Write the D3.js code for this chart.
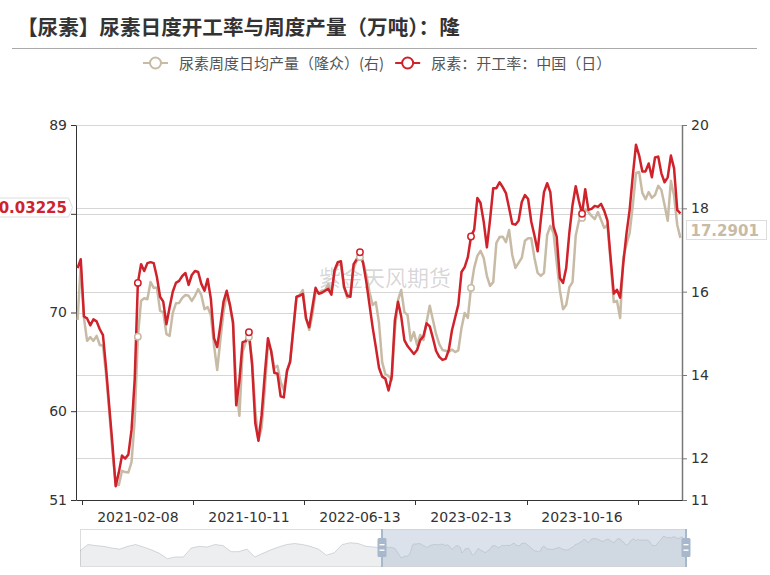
<!DOCTYPE html>
<html><head><meta charset="utf-8">
<script src="https://cdn.jsdelivr.net/npm/d3@7/dist/d3.min.js"></script>
<style>body{margin:0;background:#fff;}svg{display:block;}</style>
</head><body>
<svg id="chart" width="770" height="575"></svg>
<script>
const titleText = "【尿素】尿素日度开工率与周度产量（万吨）：隆";
const legendNames = ["尿素周度日均产量（隆众）(右)", "尿素：开工率：中国（日）"];
const watermarkText = "紫金天风期货";
const startWeek = "2020-09-28";
const weekCount = 191;
const xTickLabels = ["2021-02-08", "2021-10-11", "2022-06-13", "2023-02-13", "2023-10-16"];
const leftTicks = [51, 60, 70, 80, 89];
const rightTicks = [11, 12, 14, 16, 18, 20];

// 尿素：开工率：中国（日） (left axis)
const rateValues = [
 74.5,75.4,69.6,69.4,68.7,69.3,69.1,68.3,67.7,64.3,
 60.4,56.6,52.4,53.8,55.5,55.2,55.6,58.1,63.2,73.0,
 74.9,74.2,75.0,75.1,75.0,73.6,71.6,71.1,68.8,70.5,
 72.1,73.0,73.2,73.7,74.0,72.8,73.8,74.2,74.1,72.9,
 72.2,73.4,71.4,67.4,66.5,68.7,71.1,72.2,70.8,69.0,
 60.6,63.1,67.0,67.1,68.0,64.7,58.8,57.0,59.6,63.7,
 67.4,66.1,63.9,63.8,61.5,61.4,64.1,65.0,68.4,71.6,
 71.7,71.9,69.4,68.5,70.5,72.5,71.9,72.0,72.2,72.4,
 71.8,74.3,75.1,75.2,72.6,71.7,71.6,74.9,75.4,76.1,
 75.0,73.1,70.8,68.5,66.5,64.4,63.5,63.3,62.1,63.5,
 69.2,71.1,69.6,67.2,66.6,66.2,65.8,66.2,67.2,67.6,
 68.9,68.6,67.4,66.1,65.5,65.2,65.3,66.2,68.2,69.5,
 70.8,74.1,74.6,75.6,77.7,78.4,81.6,81.1,79.2,76.6,
 79.4,82.6,82.6,83.2,82.7,82.1,80.6,79.0,78.9,79.3,
 81.2,81.9,81.5,79.2,77.8,76.2,79.4,82.2,83.1,82.2,
 78.7,77.7,73.5,73.0,74.5,78.1,80.9,82.8,81.3,80.0,
 82.5,80.4,80.5,80.8,80.7,81.0,80.3,79.3,75.5,71.9,
 72.3,71.5,75.0,78.0,80.4,83.9,87.0,85.9,84.3,84.3,
 85.1,83.7,85.7,85.8,84.1,83.2,83.7,85.9,84.6,80.4,
 80.03225
];

// 尿素周度日均产量（隆众） (right axis)
const outputValues = [
 15.32,16.64,15.37,14.82,14.91,14.82,14.94,14.72,14.70,14.00,
 13.11,12.15,11.38,11.36,11.70,11.67,11.66,11.91,12.92,14.92,
 15.78,15.84,15.82,16.23,16.09,16.10,15.54,15.51,14.98,14.94,
 15.49,15.72,15.73,15.85,15.92,15.90,15.78,15.90,16.06,15.92,
 15.58,15.63,15.44,14.72,14.12,14.84,15.51,15.92,15.68,15.20,
 13.76,13.02,14.55,14.79,14.91,14.36,13.16,12.44,12.73,13.64,
 14.72,14.60,14.17,14.22,13.83,13.64,14.07,14.36,15.08,15.87,
 15.92,16.04,15.37,15.08,15.44,15.99,15.97,16.02,16.04,16.18,
 15.99,16.47,16.66,16.64,16.09,15.85,15.97,16.57,16.74,16.83,
 16.71,16.40,15.99,15.68,15.75,15.25,14.31,14.02,13.98,13.88,
 15.08,15.80,16.04,15.51,15.44,14.82,15.03,14.72,14.96,14.84,
 15.27,15.66,15.32,14.98,14.74,14.60,14.58,14.56,14.61,14.55,
 14.59,15.13,15.49,15.37,16.09,16.57,16.86,16.98,16.81,16.38,
 16.14,16.23,17.17,17.31,17.32,17.19,17.48,16.88,16.57,16.69,
 16.81,17.22,17.28,17.28,16.81,16.45,16.38,16.45,17.36,17.58,
 17.41,16.71,16.04,15.58,15.68,16.11,16.23,17.34,17.70,17.77,
 17.98,17.91,17.82,17.74,17.91,17.72,17.53,17.60,16.71,15.75,
 15.78,15.37,16.81,17.14,17.41,18.08,18.85,18.87,18.37,18.22,
 18.39,18.25,18.32,18.54,18.44,18.08,17.70,18.66,18.30,17.60,
 17.2901
];

// earlier history shown only in the zoom slider shadow (left, unselected part)
const historyShadow = [63.7,73.7,72,70.8,68.2,66.5,70.8,73.7,69.8,65.3,59.8,51.5,54.2,54.2,68.2,70.8,69.8,73.7,72,62.5,62.5,66.5,54.2,59.8,65.3,69.8,73.7,75.3,73.7,70.8,66.5,57,60.8,73.7,76.5,75.3,70.8,69.8,68.2];

const colorRate = "#d0222b";
const colorOutput = "#c8bba6";

const fmt = d3.timeFormat("%Y-%m-%d");
const start = d3.timeParse("%Y-%m-%d")(startWeek);
const categories = d3.range(weekCount).map(i => fmt(d3.timeDay.offset(start, 7 * i)));

const svg = d3.select("#chart");
const L = 76, R = 682, T = 125, B = 500;

const x = d3.scaleBand().domain(categories).range([L, R]);
const bw = x.bandwidth();
const cx = c => x(c) + bw / 2;
const yL = d3.scaleLinear().domain([51, 89]).range([B, T]);
const yR = d3.scaleLinear().domain([11, 20]).range([B, T]);

svg.append("rect").attr("width", 770).attr("height", 575).attr("fill", "#fff");

// title
svg.append("text").attr("x", 17).attr("y", 34.5)
  .attr("font-family", "'Noto Sans CJK SC'").attr("font-weight", "bold")
  .attr("font-size", 20.6).attr("fill", "#333").text(titleText);
svg.append("line").attr("x1", 12).attr("x2", 757).attr("y1", 48.5).attr("y2", 48.5)
  .attr("stroke", "#aaa").attr("stroke-width", 1);

// legend
const leg = svg.append("g").attr("font-family", "'Noto Sans CJK SC'").attr("font-size", 15).attr("fill", "#555");
let lx = 143;
[[legendNames[0], colorOutput], [legendNames[1], colorRate]].forEach(([name, col]) => {
  leg.append("line").attr("x1", lx).attr("x2", lx + 25).attr("y1", 63).attr("y2", 63)
    .attr("stroke", col).attr("stroke-width", 2);
  leg.append("circle").attr("cx", lx + 12.5).attr("cy", 63).attr("r", 5.5)
    .attr("fill", "#fff").attr("stroke", col).attr("stroke-width", 2);
  const t = leg.append("text").attr("x", lx + 36).attr("y", 68.5).text(name);
  lx += 36 + t.node().getComputedTextLength() + 11;
});

// grid lines
const grid = svg.append("g").attr("stroke", "#d6d6d6").attr("stroke-width", 1);
leftTicks.filter(v => v !== 51).forEach(v => {
  grid.append("line").attr("x1", L).attr("x2", R).attr("y1", Math.round(yL(v)) + 0.5).attr("y2", Math.round(yL(v)) + 0.5);
});
rightTicks.filter(v => v !== 11 && v !== 20).forEach(v => {
  grid.append("line").attr("x1", L).attr("x2", R).attr("y1", Math.round(yR(v)) + 0.5).attr("y2", Math.round(yR(v)) + 0.5);
});

// watermark
svg.append("text").attr("x", 385).attr("y", 286).attr("text-anchor", "middle")
  .attr("font-family", "'Noto Sans CJK SC'").attr("font-size", 22)
  .attr("fill", "rgba(0,0,0,0.17)").text(watermarkText);

// axes
const lastRate = rateValues[rateValues.length - 1];
const lastOut = outputValues[outputValues.length - 1];
const axisFont = "'DejaVu Sans'";
// the 80 tick label sits under the end-value label of the rate series, as in the source
const gl = svg.append("g").attr("transform", `translate(${L},0)`)
  .call(d3.axisLeft(yL).tickValues(leftTicks).tickSize(5).tickSizeOuter(0).tickPadding(4)
    .tickFormat(v => Math.abs(v - lastRate) < 2 ? "" : v));
gl.select(".domain").attr("stroke", "#333");
gl.selectAll(".tick line").attr("stroke", "#333");
gl.selectAll(".tick text").attr("font-family", axisFont).attr("font-size", 14).attr("fill", "#333");

const gr = svg.append("g").attr("transform", `translate(${R},0)`)
  .call(d3.axisRight(yR).tickValues(rightTicks).tickSize(5).tickSizeOuter(0).tickPadding(4));
gr.select(".domain").attr("stroke", "#777").attr("stroke-width", 1.5);
gr.selectAll(".tick line").attr("stroke", "#777");
gr.selectAll(".tick text").attr("font-family", axisFont).attr("font-size", 14).attr("fill", "#333");

const gb = svg.append("g").attr("transform", `translate(0,${B})`)
  .call(d3.axisBottom(x).tickValues(xTickLabels).tickSize(0).tickSizeOuter(0).tickPadding(12));
gb.select(".domain").attr("stroke", "#333");
gb.selectAll(".tick text").attr("font-family", axisFont).attr("font-size", 14).attr("fill", "#333");
// boundary ticks between the labelled categories
const tickCats = d3.range(6).map(k => categories[2 + 35 * k]);
svg.append("g").selectAll("line").data(tickCats).join("line")
  .attr("x1", d => Math.round(x(d)) + 0.5).attr("x2", d => Math.round(x(d)) + 0.5)
  .attr("y1", B).attr("y2", B + 5).attr("stroke", "#333");

// lines
const lineOut = d3.line().x((d, i) => cx(categories[i])).y(d => yR(d));
const lineRate = d3.line().x((d, i) => cx(categories[i])).y(d => yL(d));
svg.append("path").datum(outputValues).attr("d", lineOut).attr("fill", "none")
  .attr("stroke", colorOutput).attr("stroke-width", 2.5).attr("stroke-linejoin", "round");
svg.append("path").datum(rateValues).attr("d", lineRate).attr("fill", "none")
  .attr("stroke", colorRate).attr("stroke-width", 2.5).attr("stroke-linejoin", "round");

// markers at labelled categories
const markIdx = xTickLabels.map(l => categories.indexOf(l));
svg.append("g").selectAll("circle").data(markIdx).join("circle")
  .attr("cx", i => cx(categories[i])).attr("cy", i => yR(outputValues[i])).attr("r", 3.2)
  .attr("fill", "#fff").attr("stroke", colorOutput).attr("stroke-width", 1.5);
svg.append("g").selectAll("circle").data(markIdx).join("circle")
  .attr("cx", i => cx(categories[i])).attr("cy", i => yL(rateValues[i])).attr("r", 3.2)
  .attr("fill", "#fff").attr("stroke", colorRate).attr("stroke-width", 1.5);

// end value labels
const lblFont = "'DejaVu Sans'";
const ly = 207.5;
svg.append("path")
  .attr("d", `M-5,${ly - 9.5} L68.5,${ly - 9.5} L72.5,${ly} L68.5,${ly + 9.5} L-5,${ly + 9.5} Z`)
  .attr("fill", "#fff").attr("stroke", "#ddd");
svg.append("text").attr("x", 67).attr("y", ly + 5.5).attr("text-anchor", "end")
  .attr("font-family", lblFont).attr("font-weight", "bold").attr("font-size", 15)
  .attr("fill", colorRate).text(String(lastRate));
const ry = 230;
svg.append("rect").attr("x", 686.5).attr("y", ry - 9.5).attr("width", 80).attr("height", 19)
  .attr("fill", "#fff").attr("stroke", "#ddd");
svg.append("text").attr("x", 690.5).attr("y", ry + 5.5)
  .attr("font-family", lblFont).attr("font-weight", "bold").attr("font-size", 15)
  .attr("fill", colorOutput).text(String(lastOut));

// data zoom slider
const sL = 80, sR = 686, sT = 529, sB = 566, sMid = 382;
const sy = d3.scaleLinear().domain([40, 98]).range([sB, sT]);
const sxH = d3.scaleLinear().domain([0, historyShadow.length - 1]).range([sL, sMid]);
const sxC = d3.scaleLinear().domain([0, rateValues.length - 1]).range([sMid, sR]);
const shadowPts = historyShadow.map((v, i) => [sxH(i), sy(v)])
  .concat(rateValues.map((v, i) => [sxC(i), sy(v)]));
const sg = svg.append("g");
sg.append("rect").attr("x", sL + 0.5).attr("y", sT + 0.5).attr("width", sR - sL).attr("height", sB - sT)
  .attr("fill", "#fff").attr("stroke", "#ddd");
sg.append("path").datum(shadowPts)
  .attr("d", d3.area().x(d => d[0]).y0(sB).y1(d => d[1]))
  .attr("fill", "rgba(47,69,84,0.09)");
sg.append("path").datum(shadowPts)
  .attr("d", d3.line().x(d => d[0]).y(d => d[1]))
  .attr("fill", "none").attr("stroke", "rgba(47,69,84,0.3)").attr("stroke-width", 0.6);
sg.append("rect").attr("x", sMid).attr("y", sT + 0.5).attr("width", sR - sMid).attr("height", sB - sT)
  .attr("fill", "rgba(167,183,204,0.4)");
[sMid, sR].forEach(hx => {
  sg.append("rect").attr("x", hx - 1).attr("y", sT).attr("width", 2).attr("height", sB - sT + 1).attr("fill", "#a7b7cc");
  sg.append("rect").attr("x", hx - 4.5).attr("y", 538).attr("width", 9).attr("height", 19).attr("rx", 1.5).attr("fill", "#a7b7cc");
  sg.append("rect").attr("x", hx - 2.5).attr("y", 544).attr("width", 5).attr("height", 1.4).attr("fill", "#fff");
  sg.append("rect").attr("x", hx - 2.5).attr("y", 549.5).attr("width", 5).attr("height", 1.4).attr("fill", "#fff");
});
</script>
</body></html>
